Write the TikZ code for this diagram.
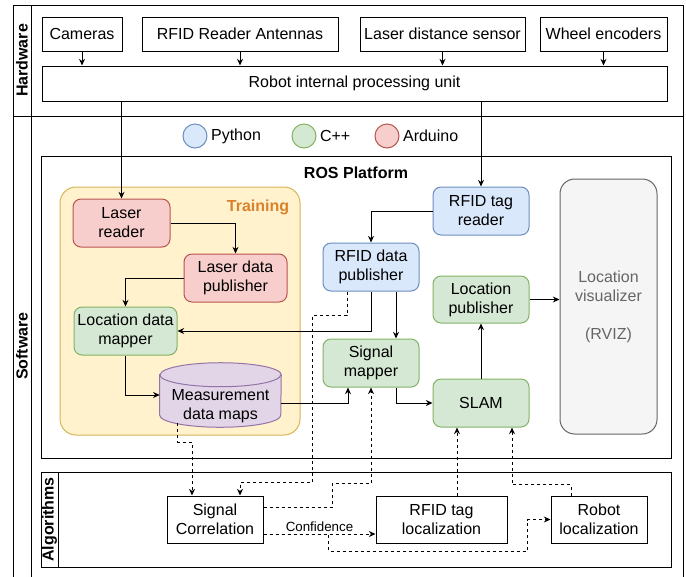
\documentclass[tikz,border=0pt]{standalone}
\usepackage{fontspec}
\setmainfont{Liberation Sans}
\usetikzlibrary{arrows.meta,positioning,calc}

\definecolor{pyfill}{HTML}{DAE8FC}
\definecolor{pyline}{HTML}{6C8EBF}
\definecolor{cppfill}{HTML}{D5E8D4}
\definecolor{cppline}{HTML}{82B366}
\definecolor{ardfill}{HTML}{F8CECC}
\definecolor{ardline}{HTML}{B85450}
\definecolor{mapfill}{HTML}{E1D5E7}
\definecolor{mapline}{HTML}{9673A6}
\definecolor{trnfill}{HTML}{FFF2CC}
\definecolor{trnline}{HTML}{D6B656}
\definecolor{trntext}{HTML}{D9822B}
\definecolor{vizfill}{HTML}{F5F5F5}
\definecolor{vizline}{HTML}{666666}

\begin{document}
\begin{tikzpicture}[
  x=0.75pt, y=-0.75pt,
  every node/.style={align=center, font=\fontsize{12}{14.3}\selectfont},
  box/.style={
    draw, rectangle, line width=0.75pt,
    inner sep=2pt, minimum height=36pt
  },
  hw/.style={box, minimum height=25.5pt},
  alg/.style={box, minimum width=72pt, minimum height=35.25pt},
  py/.style={box, rounded corners=6pt, fill=pyfill, draw=pyline, minimum width=72pt},
  cpp/.style={box, rounded corners=6pt, fill=cppfill, draw=cppline, minimum width=72pt},
  ard/.style={box, rounded corners=6pt, fill=ardfill, draw=ardline, minimum width=72.75pt},
  legdot/.style={circle, line width=0.75pt, minimum size=18pt, inner sep=0pt},
  ttl/.style={font=\fontsize{12}{14.3}\selectfont\bfseries},
  lane/.style={draw, line width=0.75pt},
  lnk/.style={-{Stealth[length=5pt,width=4.5pt]}, line width=0.75pt},
  dlnk/.style={lnk, dash pattern=on 2.25pt off 2.25pt},
]
\useasboundingbox (0,0) rectangle (686,576);

%% lanes
\draw[lane] (13,5) rectangle (683,600);
\draw[lane] (31,5) -- (31,600);
\draw[lane] (13,116) -- (683,116);
\node[ttl, rotate=90] (hwlbl) at (22,60.5) {Hardware};
\node[ttl, rotate=90] (swlbl) at (22,346) {Software};

\draw[lane] (41,156) rectangle (671,458);
\node[ttl] (rostitle) at (356,173) {ROS Platform};

\draw[lane] (41,472) rectangle (671,567);
\draw[lane] (58,472) -- (58,567);
\node[ttl, rotate=90] (alglbl) at (49.5,519.5) {Algorithms};

\draw[draw=trnline, fill=trnfill, line width=0.75pt, rounded corners=12pt]
  (60,187) rectangle (300,435);
\node[ttl, text=trntext] (trntitle) at (258,207) {Training};

%% legend
\node[legdot, draw=pyline, fill=pyfill] (pydot) at (195,136) {};
\node[right=1.5pt of pydot, inner sep=1pt] (pytxt) {Python};
\node[legdot, draw=cppline, fill=cppfill] (cppdot) at (304,136) {};
\node[right=1.5pt of cppdot, inner sep=1pt] (cpptxt) {C++};
\node[legdot, draw=ardline, fill=ardfill] (arddot) at (387,136) {};
\node[right=1.5pt of arddot, inner sep=1pt] (ardtxt) {Arduino};

%% hardware
\node[hw, minimum width=60pt] (cam) at (82,34) {Cameras};
\node[hw, minimum width=147pt] (ant) at (240,34) {RFID Reader Antennas};
\node[hw, minimum width=123.75pt] (lds) at (442.5,34) {Laser distance sensor};
\node[hw, minimum width=95.25pt] (enc) at (603.5,34) {Wheel encoders};
\node[box, minimum width=468.75pt, minimum height=26.25pt] (cpu) at (354.5,83.5)
  {Robot internal processing unit};

\foreach \s in {cam,ant,lds,enc}
  \draw[lnk] (\s.south) -- (\s.south |- cpu.north);

%% measurement maps (cylinder)
\node[minimum width=90.75pt, minimum height=48pt, inner sep=0pt] (mdm) at (220.5,395) {};
\draw[draw=mapline, fill=mapfill, line width=0.75pt]
  ([yshift=-9pt]mdm.north west) -- ([yshift=9pt]mdm.south west)
  arc[start angle=180, end angle=360, x radius=45.375pt, y radius=9pt]
  -- ([yshift=-9pt]mdm.north east)
  arc[start angle=0, end angle=180, x radius=45.375pt, y radius=9pt] -- cycle;
\draw[draw=mapline, line width=0.75pt]
  ([yshift=-9pt]mdm.north west)
  arc[start angle=180, end angle=360, x radius=45.375pt, y radius=9pt];
\node (mdmtxt) at (220.5,406) {Measurement\\data maps};

%% software nodes
\node[ard] (lrd) at (121.5,223) {Laser\\reader};
\node[ard, minimum width=77.25pt] (ldp) at (235.5,278) {Laser data\\publisher};
\node[cpp, minimum width=77.25pt] (ldm) at (125.5,331) {Location data\\mapper};
\node[py] (trd) at (481,211) {RFID tag\\reader};
\node[py] (rdp) at (371,267) {RFID data\\publisher};
\node[cpp] (smp) at (371,363) {Signal\\mapper};
\node[cpp, minimum height=35.25pt] (lpb) at (481,299.5) {Location\\publisher};
\node[cpp] (slam) at (481,403) {SLAM};
\node[box, rounded corners=11pt, fill=vizfill, draw=vizline, text=vizline,
  minimum width=72.75pt, minimum height=191.25pt] (viz) at (608.5,306.5)
  {Location\\visualizer\\[14.3pt](RVIZ)};

%% algorithm nodes
\node[alg] (sco) at (215,519.5) {Signal\\Correlation};
\node[alg, minimum width=98.25pt] (tlo) at (441.5,519.5) {RFID tag\\localization};
\node[alg] (rlo) at (599,519.5) {Robot\\localization};

%% hardware -> software
\draw[lnk] (lrd.north |- cpu.south) -- (lrd.north);
\draw[lnk] (trd.north |- cpu.south) -- (trd.north);

%% training flow
\draw[lnk] (lrd.east) -| (ldp.north);
\draw[lnk] (ldp.west) -| (ldm.north);
\draw[lnk] (ldm.south) |- (mdm.west);
\draw[lnk] ([yshift=-6pt]mdm.east) -| ([xshift=-17.25pt]smp.south);

%% rfid flow
\draw[lnk] (trd.west) -| (rdp.north);
\draw[lnk] (rdp.south) |- (ldm.east);
\draw[lnk] ([xshift=18.75pt]rdp.south) -- ([xshift=18.75pt]smp.north);
\draw[lnk] ([xshift=18.75pt]smp.south) |- (slam.west);
\draw[lnk] (slam.north) -- (lpb.south);
\draw[lnk] (lpb.east) -- (lpb.east -| viz.west);

%% dashed links to / from algorithms
\draw[dlnk] ([xshift=-18pt]rdp.south) |- ++(-35,24)
  |- ([xshift=18.75pt,yshift=9.75pt]sco.north) -- ([xshift=18.75pt]sco.north);
\draw[dlnk] ([xshift=-32pt,yshift=3pt]mdm.south)
  |- ([xshift=-17.25pt,yshift=39.75pt]sco.north) -- ([xshift=-17.25pt]sco.north);
\draw[dlnk] ([yshift=9.375pt]sco.east) -| ++(69,-24) -| (smp.south);
\draw[dlnk] ([yshift=-10.875pt]sco.east)
  -- node[above, inner sep=1.5pt, font=\fontsize{10}{12}\selectfont] (conf) {Confidence}
  ([yshift=-10.875pt]sco.east -| tlo.west);
\draw[dlnk] ([yshift=-10.875pt]sco.east) -- ++(65,0) |- ++(199,17) |- (rlo.west);
\draw[dlnk] ([xshift=-18pt]slam.south |- tlo.north) -- ([xshift=-18pt]slam.south);
\draw[dlnk] ([xshift=-21pt]rlo.north) |- ++(-59,-11) -- ([xshift=23.25pt]slam.south);
\end{tikzpicture}
\end{document}
